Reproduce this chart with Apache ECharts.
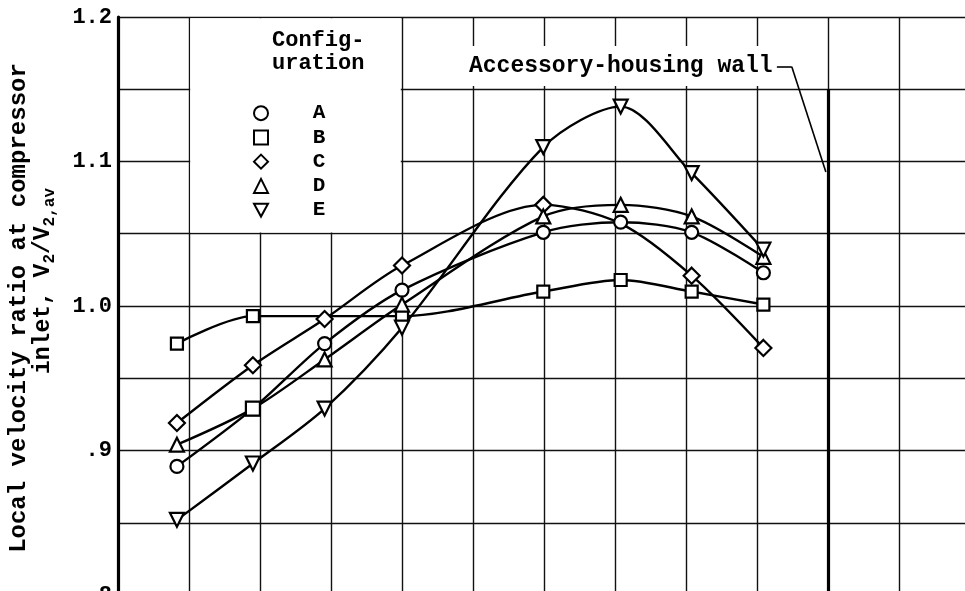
<!DOCTYPE html>
<html><head><meta charset="utf-8">
<script src="https://cdn.jsdelivr.net/npm/echarts@6/dist/echarts.min.js"></script>
<style>html,body{margin:0;padding:0;background:#fff}#c{width:965px;height:591px}</style>
</head><body><div id="c"></div>
<script>
// ---- data ----
const stations = [0.83, 1.9, 2.91, 4.0, 5.99, 7.08, 8.08, 9.09];
const configA = [0.889, 0.929, 0.974, 1.011, 1.051, 1.058, 1.051, 1.023];
const configB = [0.974, 0.993, null, 0.993, 1.010, 1.018, 1.010, 1.001];
const configC = [0.919, 0.959, 0.991, 1.028, 1.070, 1.057, 1.021, 0.971];
const configD = [0.904, 0.929, 0.963, 1.001, 1.062, 1.070, 1.062, 1.034];
const configE = [0.852, 0.891, 0.929, 0.985, 1.110, 1.138, 1.092, 1.039];
const seriesNames = ['A', 'B', 'C', 'D', 'E'];
const yTickLabels = {'1.2': '1.2', '1.1': '1.1', '1.0': '1.0', '0.9': '.9', '0.8': '.8'};
const wallStation = 10;
const wallTop = 1.15;
const leaderPath = [[9.28, 1.1656], [9.49, 1.1656], [9.97, 1.0927]];
const annotationText = 'Accessory-housing wall';
const legendTitle = ['Config-', 'uration'];

// ---- styles ----
const FONT = "'Liberation Mono', 'DejaVu Sans Mono', monospace";
const symbols = ['circle', 'rect', 'diamond', 'triangle', 'path://M0,0L12,0L6,11Z'];
const symbolSizes = [13, 12, 16, 14, 14];
const markerOverrides = {A: {1: 'rect'}, C: {5: 'none'}, D: {1: 'rect'}};
const allValues = [configA, configB, configC, configD, configE];

const chart = echarts.init(document.getElementById('c'), null, {renderer: 'canvas'});

function buildData(name, vals) {
  const out = [];
  vals.forEach((v, i) => {
    if (v === null) return;
    const item = {value: [stations[i], v]};
    const ov = markerOverrides[name];
    if (ov && ov[i]) item.symbol = ov[i];
    out.push(item);
  });
  return out;
}

const series = seriesNames.map((n, i) => ({
  name: n,
  type: 'line',
  data: buildData(n, allValues[i]),
  smooth: 0.3,
  symbol: symbols[i],
  symbolSize: symbolSizes[i],
  showAllSymbol: true,
  lineStyle: {color: '#000', width: 2.4},
  itemStyle: {color: '#fff', borderColor: '#000', borderWidth: 2.2},
  emphasis: {disabled: true},
  z: 3
}));

series.push({
  name: 'wall',
  type: 'line',
  data: [],
  silent: true,
  markLine: {
    silent: true,
    symbol: ['none', 'none'],
    label: {show: false},
    animation: false,
    data: [
      [{coord: [wallStation, wallTop], lineStyle: {width: 3.2, color: '#000', type: 'solid'}},
       {coord: [wallStation, 0.8]}],
      [{coord: leaderPath[0], lineStyle: {width: 1.6, color: '#000', type: 'solid'}},
       {coord: leaderPath[1]}],
      [{coord: leaderPath[1], lineStyle: {width: 1.6, color: '#000', type: 'solid'}},
       {coord: leaderPath[2]}]
    ]
  }
});

chart.setOption({
  animation: false,
  backgroundColor: '#fff',
  grid: {left: 118, top: 17, right: -5, bottom: -4, containLabel: false, outerBoundsMode: 'none'},
  xAxis: {
    type: 'value', min: 0, max: 12, interval: 1,
    axisLine: {show: false}, axisTick: {show: false}, axisLabel: {show: false},
    splitLine: {show: true, lineStyle: {color: '#111', width: 1.4}}
  },
  yAxis: {
    type: 'value', min: 0.8, max: 1.2, interval: 0.05,
    axisLine: {show: true, lineStyle: {color: '#000', width: 3.2}},
    axisTick: {show: false},
    splitLine: {show: true, lineStyle: {color: '#111', width: 1.4}},
    axisLabel: {
      margin: 6, color: '#000', fontFamily: FONT, fontWeight: 'bold', fontSize: 22,
      formatter: v => {
        const k = (Math.round(v * 100) / 100).toFixed(1);
        return Math.abs(v * 10 - Math.round(v * 10)) < 1e-6 ? (yTickLabels[k] || '') : '';
      }
    }
  },
  legend: {
    orient: 'vertical', left: 248, top: 96,
    itemWidth: 14, itemHeight: 14, itemGap: 0,
    selectedMode: false,
    data: seriesNames.map((n, i) => ({name: n, icon: symbols[i]})),
    formatter: n => '   ' + n,
    textStyle: {fontFamily: FONT, fontWeight: 'bold', fontSize: 21, lineHeight: 24.25, color: '#000', padding: [0, 0, 0, 2]},
    itemStyle: {color: '#fff', borderColor: '#000', borderWidth: 2},
    z: 6
  },
  series: series
});

// ---- overlays anchored to the axes ----
const p1 = chart.convertToPixel({gridIndex: 0}, [1, 1.2]);
const p2 = chart.convertToPixel({gridIndex: 0}, [4, 1.05]);
chart.setOption({
  graphic: {elements: [
    {type: 'rect', z: 1, silent: true,
     shape: {x: p1[0] + 1.2, y: p1[1] + 1.2, width: p2[0] - p1[0] - 2.4, height: p2[1] - p1[1] - 2.4},
     style: {fill: '#fff'}},
    {type: 'text', z: 5, silent: true, x: 272, y: 40,
     style: {text: legendTitle[0], fontFamily: FONT, fontWeight: 'bold', fontSize: 22, fill: '#000', align: 'left', verticalAlign: 'middle'}},
    {type: 'text', z: 5, silent: true, x: 272, y: 63,
     style: {text: legendTitle[1], fontFamily: FONT, fontWeight: 'bold', fontSize: 22, fill: '#000', align: 'left', verticalAlign: 'middle'}},
    {type: 'text', z: 1, silent: true, x: 463, y: 66,
     style: {text: annotationText, fontFamily: FONT, fontWeight: 'bold', fontSize: 23, fill: '#000', align: 'left', verticalAlign: 'middle',
             backgroundColor: '#fff', padding: [9, 6, 8, 6]}},
    {type: 'text', z: 5, silent: true, x: 19, y: 308, rotation: Math.PI / 2,
     style: {text: 'Local velocity ratio at compressor', fontFamily: FONT, fontWeight: 'bold', fontSize: 24, fill: '#000', align: 'center', verticalAlign: 'middle'}},
    {type: 'text', z: 5, silent: true, x: 43, y: 281, rotation: Math.PI / 2,
     style: {text: '{t|inlet, V}{s|2}{t|/V}{s|2,av}', align: 'center', verticalAlign: 'middle',
             rich: {
               t: {fontFamily: FONT, fontWeight: 'bold', fontSize: 23, fill: '#000', lineHeight: 30, verticalAlign: 'middle'},
               s: {fontFamily: FONT, fontWeight: 'bold', fontSize: 16, fill: '#000', lineHeight: 30, verticalAlign: 'bottom'}
             }}}
  ]}
});
</script></body></html>
